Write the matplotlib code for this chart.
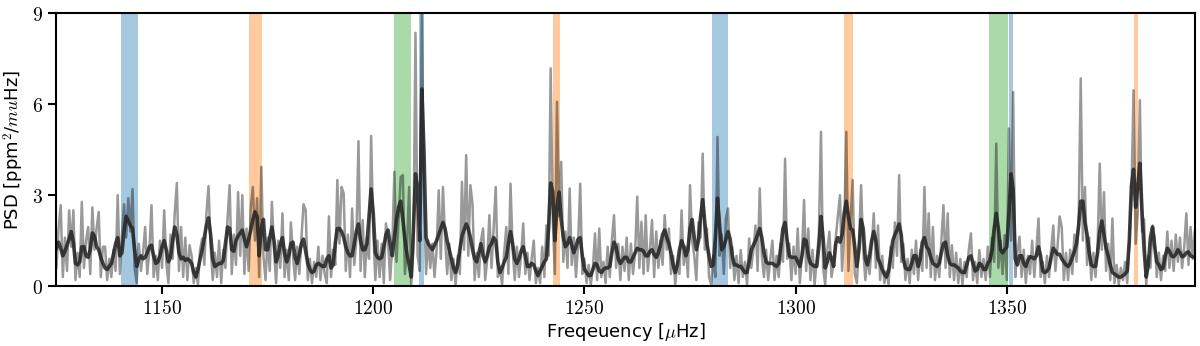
import numpy as np
import matplotlib
matplotlib.use("Agg")
import matplotlib.pyplot as plt

# ==============================
# DATA
# ==============================
# frequency grid, 0.5 muHz steps
freq = np.arange(1125.0, 1395.0, 0.5)

# raw power spectrum (ppm^2/muHz)
psd_raw = [
    0.6, 1.9, 2.67, 0.3, 1.6, 0.5, 2.5, 1.3, 2.5, 0.2, 1.1, 0.3, 2.78, 0.6, 1.5, 1.95, 0.4, 2.6, 1.2, 1.9,
    2.45, 0.3, 1.3, 1.3, 0.2, 0.9, 0.3, 1.2, 0.5, 3.0, 0.4, 1.7, 2.7, 1.6, 2.9, 1.8, 3.2, 0.6, 0.1, 1.4,
    0.5, 1.1, 1.95, 0.4, 1.2, 2.67, 0.3, 1.0, 0.2, 1.5, 0.6, 2.5, 0.8, 0.1, 1.7, 0.9, 2.4, 3.4, 0.5, 1.95,
    0.3, 1.6, 0.2, 1.35, 1.0, 0.1, 0.6, 0.05, 1.2, 1.57, 0.7, 2.4, 3.3, 1.3, 0.2, 1.1, 0.3, 1.5, 0.1, 1.2,
    0.6, 2.2, 3.33, 0.4, 1.7, 0.7, 3.1, 1.0, 3.0, 0.4, 1.9, 0.5, 2.6, 3.27, 1.5, 2.9, 0.3, 3.93, 1.0, 0.2,
    1.6, 0.5, 2.78, 1.2, 0.1, 1.5, 0.6, 2.4, 0.3, 1.2, 0.2, 2.1, 1.0, 0.2, 1.3, 0.4, 1.6, 2.7, 2.5, 0.2,
    0.9, 0.1, 0.8, 0.3, 1.3, 0.2, 1.0, 0.4, 0.1, 2.3, 0.3, 1.2, 0.7, 3.5, 1.4, 3.27, 3.05, 0.5, 1.7, 0.3,
    2.56, 0.7, 1.5, 4.78, 0.5, 2.18, 0.3, 1.6, 0.9, 4.95, 1.8, 0.2, 1.5, 0.3, 1.4, 0.1, 2.07, 1.5, 0.2, 1.3,
    3.77, 0.8, 2.2, 3.6, 3.66, 0.4, 1.3, 3.27, 0.05, 1.2, 8.35, 1.0, 0.5, 9.2, 3.0, 0.4, 1.5, 0.6, 1.4, 0.3,
    1.2, 3.16, 0.9, 3.27, 1.6, 0.4, 1.4, 0.2, 0.9, 0.05, 1.0, 0.4, 3.44, 1.2, 4.32, 1.0, 3.33, 2.7, 0.2, 1.1,
    0.3, 1.5, 1.9, 0.2, 0.9, 2.34, 0.6, 1.9, 3.27, 0.3, 0.6, 0.05, 1.1, 1.95, 0.4, 3.38, 1.2, 0.2, 1.3, 0.3,
    1.0, 2.07, 0.4, 1.1, 0.2, 0.9, 1.5, 0.1, 0.6, 0.1, 1.3, 0.3, 2.0, 1.0, 7.18, 2.2, 0.4, 6.08, 2.3, 4.1,
    0.8, 1.8, 0.6, 3.22, 0.7, 1.6, 0.3, 1.4, 3.38, 0.4, 0.9, 0.1, 0.7, 0.05, 0.6, 1.74, 0.2, 1.9, 0.3, 0.8,
    0.1, 1.3, 0.3, 1.5, 2.34, 0.6, 1.4, 0.2, 1.3, 0.5, 1.6, 0.2, 1.4, 0.4, 1.1, 2.95, 0.6, 2.12, 0.4, 2.34,
    0.5, 1.2, 2.18, 0.3, 1.8, 0.6, 1.5, 0.7, 2.34, 1.2, 1.9, 0.4, 1.0, 0.05, 0.8, 0.4, 2.5, 0.7, 1.3, 0.3,
    3.33, 1.5, 1.0, 0.2, 2.1, 1.6, 4.37, 1.2, 1.9, 0.3, 0.05, 1.0, 0.3, 4.92, 1.0, 1.7, 0.4, 2.23, 2.56, 0.6,
    1.3, 0.2, 1.0, 0.1, 1.19, 0.3, 0.8, 0.05, 1.57, 0.6, 1.2, 2.0, 0.5, 3.22, 1.0, 0.3, 1.2, 0.2, 0.9, 1.5,
    0.2, 1.0, 0.3, 1.4, 0.8, 4.2, 0.9, 1.4, 0.2, 1.3, 0.4, 1.9, 0.1, 1.1, 2.84, 0.5, 1.9, 0.2, 1.2, 0.05,
    0.9, 1.7, 5.09, 0.6, 0.05, 1.2, 1.8, 0.3, 0.8, 1.6, 2.3, 3.0, 0.5, 1.9, 5.09, 0.5, 2.2, 3.5, 0.4, 0.1,
    1.4, 3.33, 1.2, 0.2, 1.0, 0.4, 1.3, 2.4, 0.6, 2.0, 0.2, 1.0, 0.1, 0.5, 0.05, 1.3, 0.6, 2.1, 1.0, 3.66,
    0.8, 1.4, 0.2, 0.9, 0.1, 1.2, 0.4, 1.5, 0.2, 1.2, 0.5, 3.27, 0.6, 2.4, 0.3, 1.95, 0.2, 1.0, 0.3, 1.5,
    2.67, 0.6, 2.4, 0.3, 1.35, 0.2, 1.1, 0.1, 0.9, 0.05, 0.8, 0.3, 1.2, 1.74, 0.2, 0.8, 0.1, 1.19, 0.3, 0.9,
    0.2, 1.3, 0.3, 1.6, 0.8, 4.7, 0.6, 1.5, 0.4, 1.68, 0.2, 5.2, 1.5, 6.4, 0.3, 1.1, 1.63, 0.3, 1.2, 0.1,
    1.0, 0.4, 1.5, 0.3, 1.2, 2.23, 0.3, 0.8, 0.1, 1.0, 0.3, 1.2, 2.0, 0.5, 1.3, 2.3, 1.95, 0.2, 1.1, 0.2,
    1.2, 0.4, 1.7, 0.8, 2.2, 6.85, 1.5, 3.27, 0.7, 1.6, 0.2, 1.1, 0.3, 1.4, 4.04, 1.2, 3.1, 0.5, 1.4, 0.2,
    2.23, 0.1, 0.7, 0.05, 0.6, 0.2, 0.8, 0.1, 1.4, 3.0, 6.46, 1.4, 2.4, 6.13, 1.8, 2.2, 0.05, 1.0, 0.6, 2.0,
    1.6, 0.3, 1.1, 0.2, 1.0, 0.5, 1.8, 0.6, 1.5, 0.5, 1.7, 0.8, 1.6, 0.6, 1.3, 2.4, 0.7, 1.95, 0.9, 1.8,
]

# smoothed spectrum
psd_smooth = [
    1.25, 1.45, 1.25, 1.0, 1.15, 1.35, 1.55, 1.8, 1.45, 0.75, 0.7, 0.8, 1.3, 1.3, 1.0, 0.95, 1.2, 1.75, 1.65, 1.3,
    1.2, 0.95, 0.75, 0.6, 0.55, 0.65, 0.75, 1.05, 1.4, 1.6, 1.0, 1.1, 1.8, 2.3, 2.15, 2.0, 1.9, 1.2, 0.65, 0.9,
    1.0, 0.9, 0.95, 1.1, 1.3, 1.35, 1.0, 0.75, 0.8, 1.0, 1.3, 1.5, 1.2, 0.8, 0.95, 1.5, 1.95, 1.7, 1.1, 0.9,
    0.95, 0.85, 0.9, 0.85, 0.75, 0.45, 0.3, 0.55, 0.9, 1.2, 1.6, 2.0, 2.25, 1.7, 0.9, 0.65, 0.7, 0.75, 0.75, 0.85,
    1.4, 1.95, 1.9, 1.2, 1.15, 1.5, 1.65, 1.75, 1.85, 1.55, 1.3, 1.55, 1.85, 2.2, 2.45, 2.3, 1.0, 1.9, 2.2, 1.2,
    1.2, 1.6, 1.95, 1.5, 0.8, 1.0, 1.4, 1.6, 1.1, 0.8, 1.0, 1.4, 1.45, 0.95, 0.75, 1.05, 1.4, 1.55, 1.15, 0.75,
    0.55, 0.45, 0.5, 0.7, 0.75, 0.7, 0.65, 0.65, 0.9, 1.0, 0.6, 0.7, 1.4, 1.9, 1.9, 1.8, 1.6, 1.3, 1.1, 1.0,
    1.0, 1.4, 1.8, 2.05, 1.5, 1.2, 1.2, 1.4, 2.3, 3.2, 2.4, 1.1, 0.95, 0.9, 0.95, 1.3, 1.7, 1.85, 1.4, 1.0,
    1.6, 2.2, 2.6, 2.8, 2.2, 1.55, 1.05, 0.7, 0.3, 1.8, 3.7, 3.2, 1.5, 6.5, 4.5, 1.6, 1.4, 1.3, 1.2, 1.35,
    1.5, 1.7, 1.9, 2.1, 1.9, 1.5, 1.2, 0.9, 0.6, 0.45, 0.7, 1.2, 1.65, 1.85, 2.05, 1.9, 1.6, 1.2, 0.9, 0.8,
    1.1, 1.4, 1.0, 0.8, 1.0, 1.3, 1.4, 1.6, 1.5, 0.8, 0.45, 0.6, 0.8, 0.95, 1.4, 1.8, 1.4, 0.9, 0.75, 0.9,
    1.15, 1.3, 1.0, 0.65, 0.65, 0.75, 0.7, 0.5, 0.35, 0.5, 0.65, 0.8, 0.9, 1.9, 3.4, 3.1, 1.5, 2.6, 3.1, 2.2,
    1.6, 1.3, 1.4, 1.6, 1.35, 1.1, 1.3, 1.55, 1.6, 1.0, 0.55, 0.45, 0.35, 0.35, 0.55, 0.75, 0.7, 0.5, 0.45, 0.55,
    0.6, 0.6, 0.65, 1.1, 1.45, 1.3, 0.9, 0.75, 0.85, 0.95, 0.95, 0.8, 0.8, 0.95, 1.1, 1.25, 1.2, 1.2, 1.15, 1.0,
    1.0, 1.15, 1.2, 1.05, 0.95, 1.1, 1.35, 1.7, 1.85, 1.6, 1.4, 1.1, 0.7, 0.45, 0.7, 1.2, 1.5, 1.3, 1.0, 1.2,
    1.9, 2.2, 1.6, 1.2, 1.5, 2.3, 2.85, 2.1, 1.4, 1.0, 0.65, 0.7, 1.6, 2.9, 2.0, 1.2, 1.3, 1.55, 1.8, 1.55,
    1.0, 0.7, 0.7, 0.65, 0.65, 0.55, 0.45, 0.45, 0.8, 1.2, 1.35, 1.5, 1.7, 1.9, 1.6, 1.1, 0.8, 0.75, 0.75, 0.75,
    0.7, 0.65, 0.75, 1.3, 1.9, 2.1, 1.5, 1.0, 0.95, 0.95, 0.95, 0.8, 0.65, 1.0, 1.55, 1.5, 1.0, 0.75, 0.7, 0.65,
    0.65, 1.3, 2.3, 1.6, 0.6, 0.8, 1.1, 0.9, 0.65, 1.4, 1.6, 1.45, 1.7, 2.4, 2.8, 2.3, 1.9, 1.85, 1.3, 0.65,
    1.2, 2.2, 1.9, 0.9, 0.7, 1.0, 1.5, 1.8, 1.5, 0.9, 0.75, 0.55, 0.4, 0.3, 0.5, 1.0, 1.5, 1.7, 1.85, 2.05,
    1.7, 0.9, 0.6, 0.55, 0.55, 0.75, 1.0, 1.0, 0.65, 0.9, 1.45, 1.6, 1.3, 1.2, 0.95, 0.75, 0.7, 0.65, 0.75, 1.1,
    1.4, 1.45, 1.0, 0.75, 0.7, 0.7, 0.65, 0.6, 0.5, 0.45, 0.45, 0.7, 0.95, 1.0, 0.75, 0.5, 0.55, 0.75, 0.7, 0.55,
    0.55, 0.75, 0.85, 1.2, 1.9, 2.4, 1.9, 1.2, 1.1, 1.2, 1.3, 2.4, 3.7, 3.2, 0.9, 0.7, 1.0, 1.0, 0.75, 0.65,
    0.85, 0.97, 0.95, 0.9, 1.0, 1.3, 1.0, 0.5, 0.45, 0.5, 0.6, 0.95, 1.25, 1.15, 1.05, 1.05, 0.9, 0.8, 0.7, 0.65,
    0.75, 0.95, 1.15, 1.4, 2.0, 2.8, 2.8, 2.1, 1.7, 1.1, 0.7, 0.65, 0.65, 1.1, 1.8, 2.15, 1.7, 1.25, 1.0, 0.7,
    0.45, 0.4, 0.35, 0.3, 0.3, 0.35, 0.4, 0.5, 1.5, 3.3, 3.85, 2.6, 3.3, 4.05, 2.5, 1.2, 0.3, 0.7, 1.6, 1.95,
    1.3, 0.8, 0.7, 0.55, 0.6, 1.0, 1.25, 1.15, 1.0, 0.97, 1.05, 1.2, 1.1, 0.97, 1.0, 1.1, 1.13, 1.0, 0.97, 0.95,
]

# highlighted mode regions (muHz)
span_lo = [1140.3, 1170.7, 1204.8, 1210.8, 1242.5, 1280.2, 1311.5, 1345.7, 1350.5, 1380.1]
span_hi = [1144.4, 1173.6, 1208.9, 1212.0, 1244.2, 1284.0, 1313.6, 1350.2, 1351.4, 1381.0]
span_col = ["C0", "C1", "C2", "C0", "C1", "C0", "C1", "C2", "C0", "C1"]

xticks = [1150, 1200, 1250, 1300, 1350]
yticks = [0, 3, 6, 9]

# ==============================
# PLOT
# ==============================
plt.rcParams["mathtext.fontset"] = "cm"
plt.rcParams["font.family"] = ["DejaVu Sans"]

fig = plt.figure(figsize=(12, 3.46), dpi=100)
ax = fig.add_axes([0.0467, 0.173, 0.9493, 0.789])

for lo, hi, c in zip(span_lo, span_hi, span_col):
    ax.axvspan(lo, hi, color=c, alpha=0.4, lw=0, zorder=0)

ax.plot(freq, psd_raw, color="k", alpha=0.4, lw=1.8, zorder=1)
ax.plot(freq, psd_smooth, color="#222222", alpha=0.85, lw=2.6, zorder=2)

ax.set_xlim(1124.9, 1394.6)
ax.set_ylim(0, 9)
ax.set_xticks(xticks)
ax.set_xticklabels([f"${t}$" for t in xticks])
ax.set_yticks(yticks)
ax.set_yticklabels([f"${t}$" for t in yticks])
ax.tick_params(axis="both", direction="out", length=6, width=1.5, labelsize=14)
for s in ax.spines.values():
    s.set_linewidth(1.5)

ax.set_xlabel(r"Freqeuency [$\mu$Hz]", fontsize=13, labelpad=2)
ax.set_ylabel(r"PSD [ppm$^2$/$mu$Hz]", fontsize=13, labelpad=4)

fig.savefig("out.png", dpi=100)
